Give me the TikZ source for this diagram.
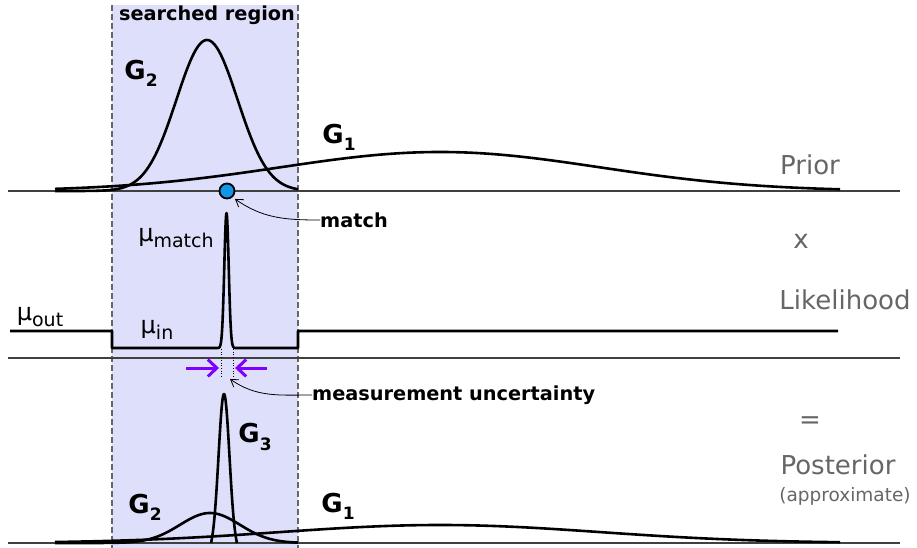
\documentclass[tikz,border=0pt]{standalone}
\usepackage{fontspec}
\setmainfont{DejaVu Sans}
\usetikzlibrary{arrows.meta}
\definecolor{regionfill}{RGB}{222,223,250}
\definecolor{sidegray}{RGB}{102,102,102}
\definecolor{squeeze}{RGB}{128,0,255}
\definecolor{dotblue}{RGB}{20,150,230}
\newcommand{\lsub}[2][17]{\raisebox{-0.28em}{\fontsize{#1}{#1}\selectfont #2}}
\tikzset{
  pdaxis/.style={draw=black!75, line width=1.3pt},
  pdcurve/.style={draw=black, line width=2.6pt, line join=round},
  pdedge/.style={draw=black!60, line width=1.3pt, dash pattern=on 6pt off 3pt},
  pdglab/.style={font=\fontsize{26}{26}\selectfont\bfseries, inner sep=0pt},
  pdmulab/.style={font=\fontsize{24}{24}\selectfont, inner sep=0pt},
  pdside/.style={text=sidegray, font=\fontsize{26}{26}\selectfont, inner sep=0pt},
  pdnote/.style={font=\fontsize{19.3}{19.3}\selectfont\bfseries, inner sep=0pt},
  pdpoint/.style={-{Straight Barb[length=7pt,width=9pt]}, line width=0.8pt},
  pdsqueeze/.style={-{Straight Barb[length=9pt,width=17pt]}, draw=squeeze, line width=3pt},
  pdtick/.style={draw=black, line width=0.7pt, dotted},
  pddot/.style={circle, draw=black, line width=1.8pt, fill=dotblue, minimum size=15pt, inner sep=0pt}
}

\begin{document}
\begin{tikzpicture}[x=1pt, y=-1pt]
  \useasboundingbox (0,0) rectangle (917,548);

  % searched region
  \fill[regionfill] (112,5) rectangle (298,548);
  \draw[pdedge] (112,5) -- (112,548);
  \draw[pdedge] (298,5) -- (298,548);
  \node[pdnote] (region) at (207,15) {searched region};

  % base lines
  \draw[pdaxis] (8,191) -- (900,191);
  \draw[pdaxis] (8,358) -- (900,358);
  \draw[pdaxis] (8,543) -- (900,543);

  % prior
  \draw[pdcurve] plot[domain=55:298, samples=120] (\x,{191-151*exp(-0.5*((\x-207)/30.5)^2)});
  \draw[pdcurve] plot[domain=55:840, samples=200] (\x,{191-39*exp(-0.5*((\x-440)/160)^2)});
  \node[pdglab] (g2top) at (141,73) {G\lsub{2}};
  \node[pdglab] (g1top) at (339,137) {G\lsub{1}};
  \node[pddot] (hit) at (227,191) {};

  % likelihood
  \draw[pdcurve] (10,331) -- (112,331) -- (112,348)
    -- plot[domain=216:237, samples=90] (\x,{348-135*exp(-0.5*((\x-226.5)/2.2)^2)})
    -- (298,348) -- (298,331) -- (838,331);
  \node[pdmulab] (mumatch) at (176,238) {μ\lsub[19]{match}};
  \node[pdmulab] (muout) at (40,317) {μ\lsub[19]{out}};
  \node[pdmulab] (muin) at (157,330) {μ\lsub[19]{in}};

  % measurement width
  \draw[pdtick] (221,349) -- (221,378);
  \draw[pdtick] (233,349) -- (233,378);
  \draw[pdsqueeze] (186,368) -- (219,368);
  \draw[pdsqueeze] (267,368) -- (235,368);
  \coordinate (gap) at (230,379);

  % posterior
  \draw[pdcurve] plot[domain=55:298, samples=120] (\x,{543-30*exp(-0.5*((\x-210)/30)^2)});
  \draw[pdcurve] plot[domain=55:840, samples=200] (\x,{543-18*exp(-0.5*((\x-440)/160)^2)});
  \draw[pdcurve] plot[domain=211:237, samples=80] (\x,{543-149*(exp(-0.5*((\x-224)/5.5)^2)-0.061)/0.939});
  \node[pdglab] (g3) at (255,437) {G\lsub{3}};
  \node[pdglab] (g2bot) at (145,507) {G\lsub{2}};
  \node[pdglab] (g1bot) at (338,506) {G\lsub{1}};

  % notes
  \node[pdnote, anchor=west] (match) at (320,220) {match};
  \node[pdnote, anchor=west] (unc) at (312,395) {measurement uncertainty};
  \draw[pdpoint] (match.west) to[out=180, in=-35] ([shift={(2pt,-2pt)}]hit.south east);
  \draw[pdpoint] (unc.west) to[out=180, in=-35] (gap);

  % right column
  \node[pdside] (prior) at (810,165) {Prior};
  \node[pdside] (times) at (801,241) {x};
  \node[pdside] (lik) at (845,300) {Likelihood};
  \node[pdside] (eq) at (810,423) {=};
  \node[pdside] (post) at (838,465) {Posterior};
  \node[pdside, font=\fontsize{18.5}{18.5}\selectfont] (approx) at (845,496) {(approximate)};
\end{tikzpicture}
\end{document}
